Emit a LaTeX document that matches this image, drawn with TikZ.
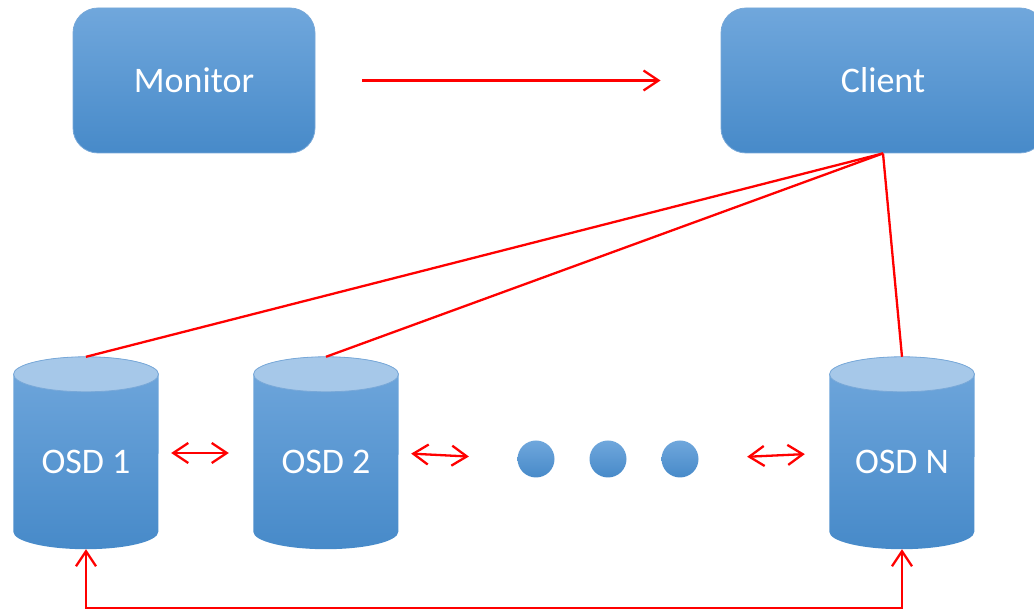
\documentclass[tikz,border=0pt]{standalone}
\usepackage{fontspec}
\setmainfont{Carlito}
\usetikzlibrary{arrows.meta, calc, backgrounds}
\definecolor{boxtop}{RGB}{112,167,220}
\definecolor{boxbot}{RGB}{71,138,201}
\definecolor{boxline}{RGB}{120,168,216}
\definecolor{disktop}{RGB}{166,200,233}
\begin{document}
\begin{tikzpicture}[x=1pt, y=1pt,
    box/.style={rounded corners=25pt, top color=boxtop, bottom color=boxbot, draw=boxline, line width=0.8pt,
        minimum height=145pt, text=white, font=\fontsize{36}{42}\selectfont},
    osd/.style={inner sep=0pt, minimum width=145pt, text height=116.8pt, text depth=75.2pt, anchor=base,
        text=white, font=\fontsize{36}{42}\selectfont},
    dot/.style={circle, inner sep=0pt, minimum size=37pt, top color=boxtop, bottom color=boxbot},
    link/.style={red, line width=2.3pt},
    tip/.style={-{Straight Barb[length=15pt, width=20pt]}},
    both/.style={{Straight Barb[length=15pt, width=20pt]}-{Straight Barb[length=15pt, width=20pt]}}]
    \useasboundingbox (0,0) rectangle (1034,610);
    \clip (0,0) rectangle (1034,610);
    \node [box, minimum width=242pt] (monitor) at (194,529.5) {Monitor};
    \node [box, minimum width=324pt] (client) at (883,529.5) {Client};
    \node [osd] (osd1) at (86,136.2) {OSD 1};
    \node [osd] (osd2) at (326,136.2) {OSD 2};
    \node [osd] (osdN) at (902,136.2) {OSD N};
    \node [dot] (dot1) at (536,151) {};
    \node [dot] (dot2) at (608,151) {};
    \node [dot] (dot3) at (680,151) {};
    \begin{scope}[on background layer]
        \foreach \n in {osd1,osd2,osdN} {
            \shade [top color=boxtop, bottom color=boxbot] ($(\n.north west)+(0,-17.5)$) -- ($(\n.south west)+(0,17.5)$)
                arc (180:360:72.5pt and 17.5pt) -- ($(\n.north east)+(0,-17.5)$) arc (0:180:72.5pt and 17.5pt) -- cycle;
            \draw [boxline, line width=0.8pt, fill=disktop] ($(\n.north)+(0,-17.5)$) ellipse (72.5pt and 17.5pt);
        }
    \end{scope}
    \draw [link, tip, shorten <=47pt, shorten >=60pt] (monitor) -- (client);
    \draw [link] (client.south) -- (osd1.north);
    \draw [link] (client.south) -- (osd2.north);
    \draw [link] (client.south) -- (osdN.north);
    \draw [link, both, shorten <=12.5pt, shorten >=24.5pt] (osd1.east) -- (osd2.west);
    \draw [link, both, shorten <=12.5pt, shorten >=48.5pt] (osd2.east) -- (dot1.west);
    \draw [link, both, shorten <=48.5pt, shorten >=24.5pt] (dot3.east) -- (osdN.west);
    \draw [link, both] (osd1.south) -- ++(0,-59) -| (osdN.south);
\end{tikzpicture}
\end{document}
